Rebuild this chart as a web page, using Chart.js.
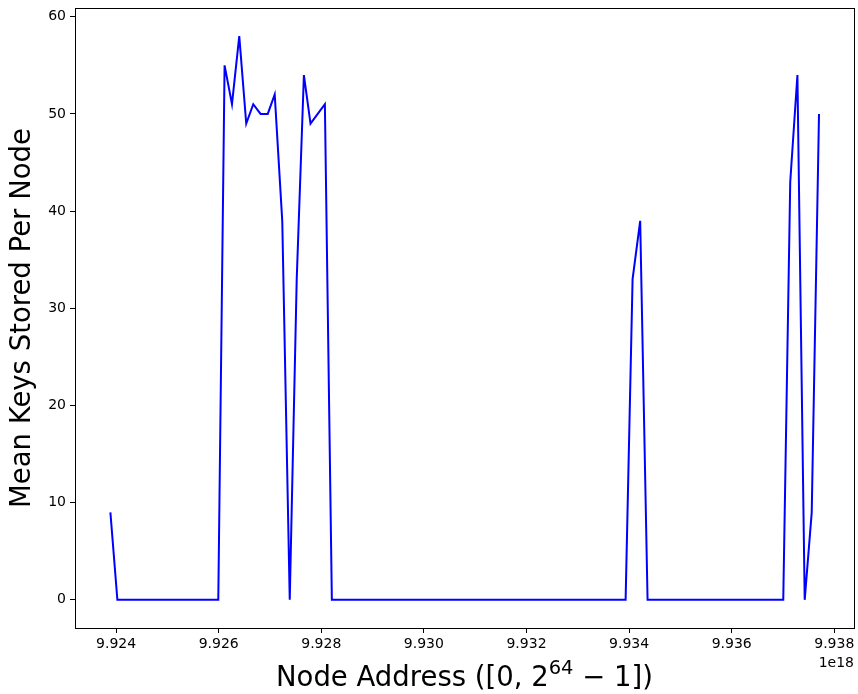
<!DOCTYPE html>
<html>
<head>
<meta charset="utf-8">
<title>Mean keys per node</title>
<script src="https://cdn.jsdelivr.net/npm/chart.js@4"></script>
<style>
  html, body { margin: 0; padding: 0; background: #fff; }
  #chart { display: block; }
</style>
</head>
<body>
<canvas id="chart" width="858" height="694"></canvas>
<script>
// node addresses, in units of 1e18
const nodeAddress = [
  9.923889, 9.924025, 9.925992, 9.926115, 9.926259, 9.926401, 9.926537,
  9.926674, 9.926816, 9.926956, 9.927092, 9.927239, 9.927385, 9.927521,
  9.927661, 9.927790, 9.927930, 9.928070, 9.928206, 9.933932, 9.934068,
  9.934216, 9.934360, 9.937005, 9.937141, 9.937281, 9.937423, 9.937560,
  9.937702
];
const meanKeys = [
  9, 0, 0, 55, 51, 58, 49,
  51, 50, 50, 52, 39, 0, 33,
  54, 49, 50, 51, 0, 0, 33,
  39, 0, 0, 43, 54, 0, 9,
  50
];
const xTicks = [9.924, 9.926, 9.928, 9.930, 9.932, 9.934, 9.936, 9.938];
const yTicks = [0, 10, 20, 30, 40, 50, 60];

const FONT = 'DejaVu Sans';

const points = nodeAddress.map((x, i) => ({ x: x, y: meanKeys[i] }));

// frame around the plot + axis titles (x title has a superscript)
const decorations = {
  id: 'decorations',
  afterDraw(chart){
    const ctx = chart.ctx;
    const a = chart.chartArea;
    ctx.save();
    ctx.strokeStyle = '#000';
    ctx.lineWidth = 1;
    ctx.strokeRect(Math.round(a.left) + 0.5, Math.round(a.top) + 0.5,
                   Math.round(a.right - a.left), Math.round(a.bottom - a.top));

    ctx.fillStyle = '#000';
    // offset text
    ctx.font = '14px ' + FONT;
    ctx.textAlign = 'right';
    ctx.textBaseline = 'alphabetic';
    ctx.fillText('1e18', a.right, 667);

    // y title
    ctx.font = '27.5px ' + FONT;
    ctx.save();
    ctx.translate(23, (a.top + a.bottom) / 2);
    ctx.rotate(-Math.PI / 2);
    ctx.textAlign = 'center';
    ctx.textBaseline = 'middle';
    ctx.fillText('Mean Keys Stored Per Node', 0, 0);
    ctx.restore();

    // x title: Node Address ([0, 2^64 − 1])
    const big = '27.5px ' + FONT;
    const small = '19.5px ' + FONT;
    const partA = 'Node Address ([0, 2';
    const sup = '64';
    const partB = ' \u2212 1])';
    ctx.font = big;
    const wA = ctx.measureText(partA).width;
    const wB = ctx.measureText(partB).width;
    ctx.font = small;
    const wS = ctx.measureText(sup).width;
    const total = wA + wS + wB;
    let x = (a.left + a.right) / 2 - total / 2;
    const base = 686;
    ctx.textAlign = 'left';
    ctx.font = big;
    ctx.fillText(partA, x, base);
    x += wA;
    ctx.font = small;
    ctx.fillText(sup, x, base - 12);
    x += wS;
    ctx.font = big;
    ctx.fillText(partB, x, base);
    ctx.restore();
  }
};

new Chart(document.getElementById('chart'), {
  type: 'line',
  data: {
    datasets: [{
      data: points,
      borderColor: '#0000ff',
      borderWidth: 2,
      pointRadius: 0,
      tension: 0,
      fill: false
    }]
  },
  options: {
    responsive: false,
    animation: false,
    devicePixelRatio: 1,
    layout: { padding: { left: 0, right: 4, top: 8, bottom: 0 } },
    plugins: { legend: { display: false }, tooltip: { enabled: false } },
    scales: {
      x: {
        type: 'linear',
        min: 9.923199,
        max: 9.938384,
        afterBuildTicks: s => { s.ticks = xTicks.map(v => ({ value: v })); },
        afterFit: s => { s.height = 66; s.paddingLeft = 0; s.paddingRight = 0; },
        ticks: {
          callback: v => v.toFixed(3),
          color: '#000',
          font: { family: FONT, size: 14 },
          maxRotation: 0,
          autoSkip: false,
          padding: 3
        },
        grid: { drawOnChartArea: false, tickLength: 5, tickColor: '#000' },
        border: { display: false }
      },
      y: {
        type: 'linear',
        min: -2.9,
        max: 60.9,
        afterBuildTicks: s => { s.ticks = yTicks.map(v => ({ value: v })); },
        afterFit: s => { s.width = 75; s.paddingTop = 0; s.paddingBottom = 0; },
        ticks: {
          color: '#000',
          font: { family: FONT, size: 14 },
          autoSkip: false,
          padding: 4
        },
        grid: { drawOnChartArea: false, tickLength: 5, tickColor: '#000' },
        border: { display: false }
      }
    }
  },
  plugins: [decorations]
});
</script>
</body>
</html>
